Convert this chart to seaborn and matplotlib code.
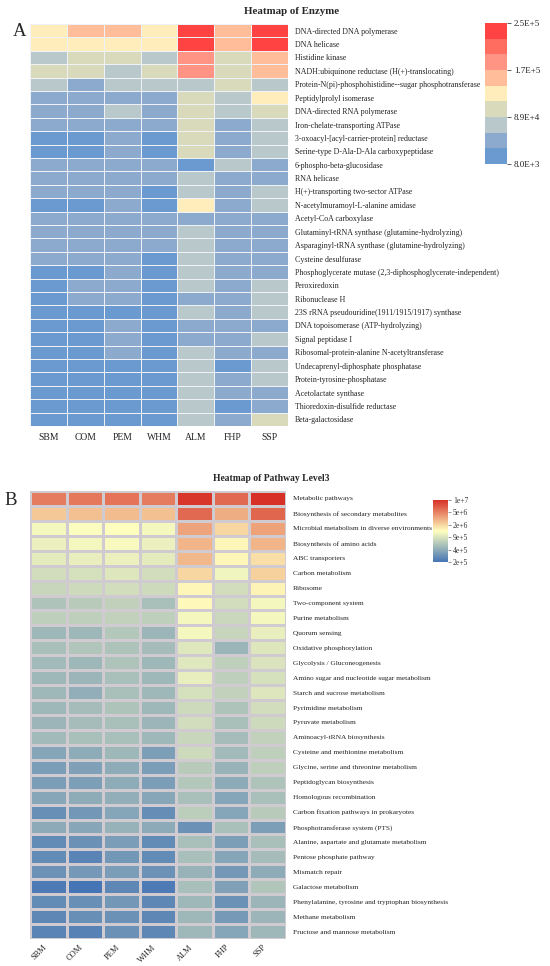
import numpy as np
import pandas as pd
import matplotlib
matplotlib.use("Agg")
import matplotlib.pyplot as plt
from matplotlib.colors import ListedColormap, LinearSegmentedColormap, LogNorm
import seaborn as sns

# -------------------------------
# Data
# -------------------------------
samples = ["SBM", "COM", "PEM", "WHM", "ALM", "FHP", "SSP"]

enzymes = [
    "DNA-directed DNA polymerase",
    "DNA helicase",
    "Histidine kinase",
    "NADH:ubiquinone reductase (H(+)-translocating)",
    "Protein-N(pi)-phosphohistidine--sugar phosphotransferase",
    "Peptidylprolyl isomerase",
    "DNA-directed RNA polymerase",
    "Iron-chelate-transporting ATPase",
    "3-oxoacyl-[acyl-carrier-protein] reductase",
    "Serine-type D-Ala-D-Ala carboxypeptidase",
    "6-phospho-beta-glucosidase",
    "RNA helicase",
    "H(+)-transporting two-sector ATPase",
    "N-acetylmuramoyl-L-alanine amidase",
    "Acetyl-CoA carboxylase",
    "Glutaminyl-tRNA synthase (glutamine-hydrolyzing)",
    "Asparaginyl-tRNA synthase (glutamine-hydrolyzing)",
    "Cysteine desulfurase",
    "Phosphoglycerate mutase (2,3-diphosphoglycerate-independent)",
    "Peroxiredoxin",
    "Ribonuclease H",
    "23S rRNA pseudouridine(1911/1915/1917) synthase",
    "DNA topoisomerase (ATP-hydrolyzing)",
    "Signal peptidase I",
    "Ribosomal-protein-alanine N-acetyltransferase",
    "Undecaprenyl-diphosphate phosphatase",
    "Protein-tyrosine-phosphatase",
    "Acetolactate synthase",
    "Thioredoxin-disulfide reductase",
    "Beta-galactosidase",
]

# enzyme abundance (thousands)
enz_SBM = [130, 126, 79, 96, 74, 52, 48, 45, 28, 26, 44, 42, 41, 24, 40, 40, 39, 38, 27, 23, 22, 21, 20, 19, 18, 17, 16, 15, 14, 8]
enz_COM = [150, 128, 92, 90, 58, 50, 47, 44, 26, 25, 43, 42, 40, 22, 41, 40, 39, 38, 26, 37, 36, 24, 22, 21, 20, 19, 18, 17, 16, 15]
enz_PEM = [152, 130, 93, 77, 70, 55, 66, 52, 48, 47, 46, 45, 44, 43, 45, 44, 43, 42, 41, 40, 40, 30, 39, 38, 38, 28, 26, 25, 24, 22]
enz_WHM = [135, 127, 82, 95, 72, 50, 47, 44, 25, 24, 43, 41, 30, 23, 40, 40, 39, 29, 24, 22, 21, 20, 19, 19, 18, 17, 16, 15, 14, 13]
enz_ALM = [250, 245, 185, 180, 72, 100, 98, 97, 96, 95, 30, 68, 70, 125, 55, 69, 68, 67, 66, 65, 60, 66, 58, 56, 65, 64, 64, 63, 63, 62]
enz_FHP = [155, 150, 92, 90, 95, 75, 72, 50, 48, 47, 70, 46, 45, 44, 46, 45, 44, 44, 43, 42, 42, 41, 41, 40, 40, 30, 40, 39, 28, 38]
enz_SSP = [248, 240, 160, 158, 78, 130, 100, 80, 75, 74, 50, 52, 70, 72, 50, 50, 49, 48, 48, 68, 66, 67, 52, 65, 55, 66, 64, 58, 55, 92]

pathways = [
    "Metabolic pathways",
    "Biosynthesis of secondary metabolites",
    "Microbial metabolism in diverse environments",
    "Biosynthesis of amino acids",
    "ABC transporters",
    "Carbon metabolism",
    "Ribosome",
    "Two-component system",
    "Purine metabolism",
    "Quorum sensing",
    "Oxidative phosphorylation",
    "Glycolysis / Gluconeogenesis",
    "Amino sugar and nucleotide sugar metabolism",
    "Starch and sucrose metabolism",
    "Pyrimidine metabolism",
    "Pyruvate metabolism",
    "Aminoacyl-tRNA biosynthesis",
    "Cysteine and methionine metabolism",
    "Glycine, serine and threonine metabolism",
    "Peptidoglycan biosynthesis",
    "Homologous recombination",
    "Carbon fixation pathways in prokaryotes",
    "Phosphotransferase system (PTS)",
    "Alanine, aspartate and glutamate metabolism",
    "Pentose phosphate pathway",
    "Mismatch repair",
    "Galactose metabolism",
    "Phenylalanine, tyrosine and tryptophan biosynthesis",
    "Methane metabolism",
    "Fructose and mannose metabolism",
]

path_SBM = [5.0e6, 2.4e6, 1.25e6, 1.15e6, 1.05e6, 8.6e5, 7.9e5, 5.9e5, 7.0e5, 5.0e5, 5.6e5, 5.2e5, 5.0e5, 5.0e5, 5.0e5,
            4.8e5, 5.2e5, 3.8e5, 3.4e5, 3.4e5, 3.9e5, 2.8e5, 4.1e5, 2.6e5, 2.6e5, 2.9e5, 2.1e5, 2.6e5, 2.5e5, 2.4e5]
path_COM = [5.2e6, 2.6e6, 1.35e6, 1.25e6, 1.1e6, 9.0e5, 8.2e5, 6.6e5, 7.0e5, 5.0e5, 6.1e5, 5.0e5, 4.8e5, 4.4e5, 5.4e5,
            5.4e5, 5.6e5, 4.2e5, 3.6e5, 3.5e5, 4.2e5, 3.1e5, 3.9e5, 2.9e5, 2.4e5, 3.2e5, 1.9e5, 2.8e5, 2.8e5, 2.3e5]
path_PEM = [5.5e6, 2.7e6, 1.4e6, 1.3e6, 1.15e6, 9.8e5, 8.6e5, 7.1e5, 7.3e5, 6.3e5, 5.9e5, 5.9e5, 5.6e5, 5.6e5, 5.9e5,
            5.6e5, 5.6e5, 5.0e5, 4.2e5, 4.2e5, 4.4e5, 3.8e5, 4.6e5, 3.4e5, 3.1e5, 3.4e5, 2.5e5, 3.1e5, 2.9e5, 2.9e5]
path_WHM = [5.0e6, 2.6e6, 1.25e6, 1.15e6, 1.05e6, 8.6e5, 8.2e5, 5.6e5, 7.0e5, 4.8e5, 5.4e5, 5.0e5, 5.0e5, 5.0e5, 5.0e5,
            4.8e5, 5.0e5, 3.5e5, 3.4e5, 3.4e5, 3.9e5, 2.7e5, 4.1e5, 2.6e5, 2.6e5, 2.9e5, 2.1e5, 2.5e5, 2.5e5, 2.5e5]
path_ALM = [1.0e7, 6.0e6, 3.4e6, 2.9e6, 2.8e6, 2.1e6, 1.55e6, 1.5e6, 1.25e6, 1.25e6, 1.0e6, 1.0e6, 1.1e6, 9.0e5, 8.2e5,
            8.6e5, 7.9e5, 8.2e5, 6.6e5, 6.3e5, 5.6e5, 6.8e5, 2.9e5, 5.6e5, 5.6e5, 4.6e5, 5.6e5, 5.0e5, 5.0e5, 5.0e5]
path_FHP = [6.0e6, 3.1e6, 2.1e6, 1.55e6, 1.55e6, 1.2e6, 8.6e5, 8.6e5, 8.0e5, 7.7e5, 4.8e5, 7.0e5, 7.0e5, 7.3e5, 5.9e5,
            5.6e5, 5.4e5, 5.2e5, 4.6e5, 4.1e5, 3.8e5, 3.8e5, 5.6e5, 3.5e5, 3.8e5, 3.1e5, 3.6e5, 2.9e5, 3.2e5, 3.8e5]
path_SSP = [1.05e7, 6.2e6, 3.5e6, 2.9e6, 1.95e6, 2.2e6, 1.6e6, 1.25e6, 1.25e6, 1.1e6, 9.8e5, 9.5e5, 9.0e5, 9.8e5, 8.6e5,
            8.2e5, 7.3e5, 7.0e5, 7.0e5, 5.9e5, 5.6e5, 6.6e5, 3.5e5, 5.6e5, 5.4e5, 4.2e5, 6.1e5, 4.8e5, 4.8e5, 5.0e5]

path_tick_labels = ["2e+5", "4e+5", "9e+5", "2e+6", "5e+6", "1e+7"]

# -------------------------------
# Tables
# -------------------------------
df_enz = pd.DataFrame({"SBM": enz_SBM, "COM": enz_COM, "PEM": enz_PEM, "WHM": enz_WHM,
                       "ALM": enz_ALM, "FHP": enz_FHP, "SSP": enz_SSP}, index=enzymes) * 1000
df_path = pd.DataFrame({"SBM": path_SBM, "COM": path_COM, "PEM": path_PEM, "WHM": path_WHM,
                        "ALM": path_ALM, "FHP": path_FHP, "SSP": path_SSP}, index=pathways)

sns.set_theme(style="white")
plt.rcParams["font.family"] = ["Liberation Serif", "DejaVu Serif"]

W, H = 550, 966
fig = plt.figure(figsize=(W / 100, H / 100), dpi=100)


def box(x0, y0, x1, y1):
    # pixel box (top-left origin) -> figure fraction rect
    return [x0 / W, 1 - y1 / H, (x1 - x0) / W, (y1 - y0) / H]


# -------------------------------
# A. Heatmap of Enzyme
# -------------------------------
ax_a = fig.add_axes(box(30, 24, 288, 426))
cax_a = fig.add_axes(box(485, 23, 507, 164))

enz_colors = ["#6A9AD0", "#8CAACE", "#B9C8CA", "#D9D9BB", "#FFEEBB",
              "#FFBD99", "#FF9484", "#FF6C60", "#FF4242"]
vmin_a, vmax_a = 8000, 250000
sns.heatmap(df_enz, ax=ax_a, cmap=ListedColormap(enz_colors), vmin=vmin_a, vmax=vmax_a,
            linewidths=0.7, linecolor="#EEF2F6", cbar_ax=cax_a,
            xticklabels=True, yticklabels=True)

ax_a.yaxis.tick_right()
ax_a.tick_params(axis="y", length=0, pad=5, labelsize=5.7, labelcolor="#222222")
ax_a.tick_params(axis="x", length=0, pad=5, labelsize=6.9, labelcolor="#222222")
plt.setp(ax_a.get_yticklabels(), rotation=0)
plt.setp(ax_a.get_xticklabels(), rotation=0)

ticks_a = np.linspace(vmin_a, vmax_a, 4)
labels_a = []
for v in ticks_a:
    m, e = f"{v:.1E}".split("E")
    labels_a.append(f"{m}E{e[0]}{int(e[1:])}")
cbar_a = ax_a.collections[0].colorbar
cbar_a.set_ticks(ticks_a)
cbar_a.set_ticklabels(labels_a)
cbar_a.outline.set_visible(False)
cbar_a.ax.tick_params(length=3, width=0.6, color="#444444", labelsize=6.5, pad=2, labelcolor="#222222")

fig.text(292 / W, 1 - 11.5 / H, "Heatmap of Enzyme", ha="center", va="center",
         fontsize=7.8, fontweight="bold")
fig.text(13 / W, 1 - 35.5 / H, "A", ha="left", va="baseline", fontsize=13.5)

# -------------------------------
# B. Heatmap of Pathway Level3
# -------------------------------
ax_b = fig.add_axes(box(30, 491, 286, 939))
cax_b = fig.add_axes(box(433, 500, 448, 562))

path_cmap = LinearSegmentedColormap.from_list("byr", ["#4575B4", "#FFFFBF", "#D73027"])
vmin_b, vmax_b = 1.9e5, 1.05e7
sns.heatmap(df_path, ax=ax_b, cmap=path_cmap, norm=LogNorm(vmin=vmin_b, vmax=vmax_b),
            linewidths=0.8, linecolor="#CFCBD0", cbar_ax=cax_b,
            xticklabels=True, yticklabels=True)

ax_b.yaxis.tick_right()
ax_b.tick_params(axis="y", length=0, pad=5, labelsize=5.3, labelcolor="#222222")
ax_b.tick_params(axis="x", length=0, pad=3, labelsize=6, labelcolor="#222222")
plt.setp(ax_b.get_yticklabels(), rotation=0)
plt.setp(ax_b.get_xticklabels(), rotation=45, ha="right", va="top")

cbar_b = ax_b.collections[0].colorbar
cbar_b.set_ticks(np.geomspace(vmin_b, vmax_b, len(path_tick_labels)))
cbar_b.set_ticklabels(path_tick_labels)
cbar_b.ax.minorticks_off()
cbar_b.outline.set_visible(False)
cbar_b.ax.tick_params(length=2, width=0.5, color="#666666", labelsize=5.5, pad=1.5, labelcolor="#333333")

fig.text(271 / W, 1 - 478.5 / H, "Heatmap of Pathway Level3", ha="center", va="center",
         fontsize=6.9, fontweight="bold")
fig.text(4 / W, 1 - 505 / H, "B", ha="left", va="baseline", fontsize=13.5)

fig.savefig("out.png", dpi=100)
plt.close()
